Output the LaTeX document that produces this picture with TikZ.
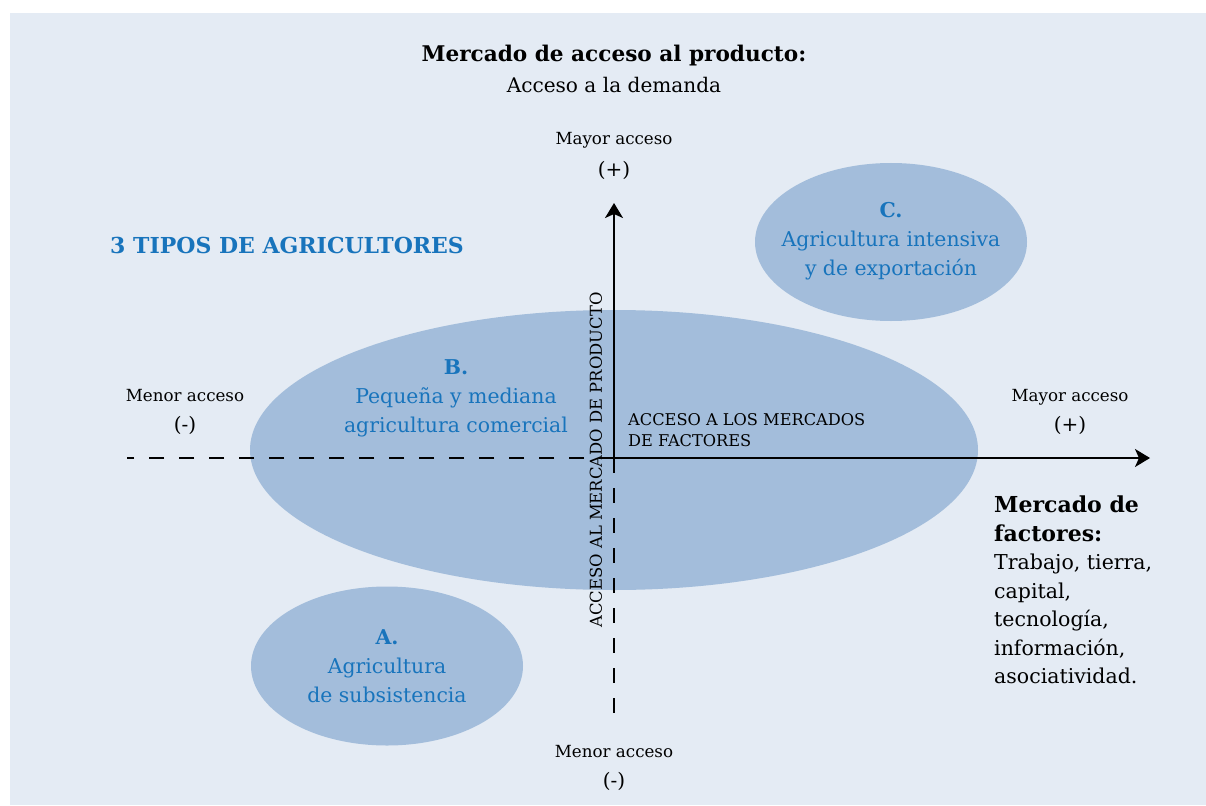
\documentclass[tikz,border=0pt]{standalone}
\usepackage{fontspec}
\setmainfont{DejaVu Serif}
\usetikzlibrary{arrows.meta,shapes.geometric}
\definecolor{bgc}{HTML}{E4EBF4}
\definecolor{ellc}{HTML}{A3BDDB}
\definecolor{bluec}{HTML}{1874BC}
\newcommand\fsz[2]{\fontsize{#1pt}{#2pt}\selectfont}
\begin{document}
\begin{tikzpicture}[x=1pt,y=-1pt,
  blob/.style={ellipse,fill=ellc,draw=none,inner sep=0pt},
  axisline/.style={line width=2.2pt,black},
  axisdash/.style={line width=2.2pt,black,dash pattern=on 15pt off 15pt},
  tip/.style={-{Stealth[length=15pt,width=18pt,inset=4pt]}},
  lbl/.style={align=center,inner sep=0pt,text=black},
  bluetxt/.style={align=center,inner sep=0pt,text=bluec,font=\fsz{20.4}{29}},
]
\useasboundingbox (0,0) rectangle (1206,805);
\fill[bgc] (10,13) rectangle (1206,805);
% ellipses
\node[blob,minimum width=728pt,minimum height=280pt] (B) at (614,450) {};
\node[blob,minimum width=272pt,minimum height=158pt] (C) at (891,242) {};
\node[blob,minimum width=272pt,minimum height=159pt] (A) at (387,666) {};
% axes
\coordinate (O) at (614,458);
\coordinate (ytop) at (614,203);
\coordinate (ybot) at (614,718);
\coordinate (xleft) at (127,458);
\coordinate (xright) at (1150,458);
\draw[axisdash] (O) -- (xleft);
\draw[axisdash] (O) -- (ybot);
\draw[axisline,tip] (O) -- (ytop);
\draw[axisline,tip] (O) -- (xright);
% titles
\node[lbl,font=\fsz{21.6}{29}\bfseries] (title) at (614,56) {Mercado de acceso al producto:};
\node[lbl,font=\fsz{20.1}{29}] (subtitle) at (614,85) {Acceso a la demanda};
\node[lbl,font=\fsz{22}{26}\bfseries,text=bluec,anchor=west] (tipos) at (110,245) {3 TIPOS DE AGRICULTORES};
% axis end labels
\node[lbl,font=\fsz{16.7}{29}] (mtop) at (614,140) {Mayor acceso};
\node[lbl,font=\fsz{20}{29}] (ptop) at (614,170) {(+)};
\node[lbl,font=\fsz{16.7}{29}] (mleft) at (185,396) {Menor acceso};
\node[lbl,font=\fsz{20}{29}] (pleft) at (185,425) {(-)};
\node[lbl,font=\fsz{16.7}{29}] (mright) at (1070,397) {Mayor acceso};
\node[lbl,font=\fsz{20}{29}] (pright) at (1070,425) {(+)};
\node[lbl,font=\fsz{16.7}{29}] (mbot) at (614,752) {Menor acceso};
\node[lbl,font=\fsz{20}{29}] (pbot) at (614,781) {(-)};
% axis names
\node[lbl,font=\fsz{16.4}{20},rotate=90] (yname) at (596,460) {ACCESO AL MERCADO DE PRODUCTO};
\node[lbl,font=\fsz{16.2}{21},align=left,anchor=west] (xname) at (628,430) {ACCESO A LOS MERCADOS\\DE FACTORES};
% ellipse texts
\node[bluetxt] (Btxt) at (456,398) {\textbf{B.}\\Pequeña y mediana\\agricultura comercial};
\node[bluetxt] (Ctxt) at (891,241) {\textbf{C.}\\Agricultura intensiva\\y de exportación};
\node[bluetxt] (Atxt) at (387,666) {\textbf{A.}\\Agricultura\\de subsistencia};
% factores block
\node[lbl,font=\fsz{20.5}{28.5},align=left,anchor=west] (fact) at (994,590) {{\fsz{22}{28.5}\bfseries Mercado de}\\{\fsz{22}{28.5}\bfseries factores:}\\Trabajo, tierra,\\capital,\\tecnología,\\información,\\asociatividad.};
\end{tikzpicture}
\end{document}
